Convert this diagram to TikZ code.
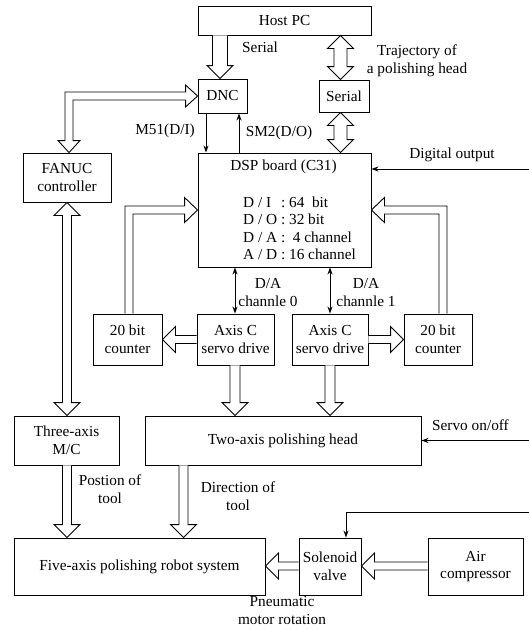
\documentclass[tikz,border=0pt]{standalone}
\usepackage{fontspec}
\setmainfont{Liberation Serif}
\usetikzlibrary{calc,arrows.meta}
\newcommand{\figfont}{\fontsize{15.3}{17.5}\selectfont}
% vertical hollow arrow: #1 x, #2 from, #3 to, #4 shaft half width, #5 sign (1 down, -1 up)
\newcommand{\varr}[5]{%
  \path (#1,0 |- #2) coordinate (bs) (#1,0 |- #3) coordinate (be);
  \draw[harrow] ($(bs)+(-#4,0)$) -- ($(be)+(-#4,{-13*#5})$) -- ($(be)+(-13,{-13*#5})$) -- (be)
     -- ($(be)+(13,{-13*#5})$) -- ($(be)+(#4,{-13*#5})$) -- ($(bs)+(#4,0)$);}
% double vertical hollow arrow: #1 x, #2 top, #3 bottom, #4 shaft half width
\newcommand{\bdv}[4]{%
  \path (#1,0 |- #2) coordinate (bs) (#1,0 |- #3) coordinate (be);
  \draw[harrow] (bs) -- ($(bs)+(13,13)$) -- ($(bs)+(#4,13)$) -- ($(be)+(#4,-13)$) -- ($(be)+(13,-13)$)
     -- (be) -- ($(be)+(-13,-13)$) -- ($(be)+(-#4,-13)$) -- ($(bs)+(-#4,13)$) -- ($(bs)+(-13,13)$) -- cycle;}
% horizontal hollow arrow: #1 y, #2 from, #3 to, #4 shaft half width, #5 sign (1 right, -1 left)
\newcommand{\harr}[5]{%
  \path (#2 |- 0,#1) coordinate (bs) (#3 |- 0,#1) coordinate (be);
  \draw[harrow] ($(bs)+(0,-#4)$) -- ($(be)+({-13*#5},-#4)$) -- ($(be)+({-13*#5},-13)$) -- (be)
     -- ($(be)+({-13*#5},13)$) -- ($(be)+({-13*#5},#4)$) -- ($(bs)+(0,#4)$);}
\begin{document}
\begin{tikzpicture}[x=1pt,y=-1pt,
  box/.style={draw, line width=0.9pt, inner sep=0pt, align=center, font=\figfont},
  harrow/.style={draw, line width=0.9pt, fill=white, line join=miter},
  thinl/.style={draw, line width=0.9pt},
  lbl/.style={align=center, font=\figfont, inner sep=0pt},
  tip/.style={-{Stealth[length=7pt,width=5pt]}},
  tips/.style={{Stealth[length=7pt,width=5pt]}-{Stealth[length=7pt,width=5pt]}}]
\useasboundingbox (0,0) rectangle (529,629);

% boxes
\node[box, minimum width=173pt, minimum height=29pt] (host) at (284.5,20.5) {Host PC};
\node[box, minimum width=49pt, minimum height=34pt] (dnc) at (222.5,96) {DNC};
\node[box, minimum width=50pt, minimum height=32pt] (ser) at (344,96) {Serial};
\node[box, minimum width=88pt, minimum height=49pt] (fanuc) at (67,177.5) {FANUC\\controller};
\node[box, minimum width=173pt, minimum height=114pt] (dsp) at (284.5,210) {};
\node[box, minimum width=69pt, minimum height=51pt] (cntL) at (127.5,339.5) {20 bit\\counter};
\node[box, minimum width=77pt, minimum height=51pt] (axL) at (235.5,339.5) {Axis C\\servo drive};
\node[box, minimum width=76pt, minimum height=51pt] (axR) at (330,339.5) {Axis C\\servo drive};
\node[box, minimum width=68pt, minimum height=51pt] (cntR) at (438,339.5) {20 bit\\counter};
\node[box, minimum width=105pt, minimum height=49pt] (three) at (66.5,440.5) {Three-axis\\M/C};
\node[box, minimum width=276pt, minimum height=49pt] (head) at (283,440.5) {Two-axis polishing head};
\node[box, minimum width=251pt, minimum height=57pt] (five) at (139.5,566.5) {Five-axis polishing robot system};
\node[box, minimum width=62pt, minimum height=57pt] (sol) at (330,566.5) {Solenoid\\valve};
\node[box, minimum width=95pt, minimum height=57pt] (air) at (475.5,566.5) {Air\\compressor};

% DSP contents
\node[lbl] (dsptitle) at (283.5,167) {DSP board (C31)};
\node[lbl, anchor=base west] (dspspec) at (243,207) {\begin{tabular}[t]{@{}l@{\ :\ }l@{}}
D / I & 64\ \ bit\\
D / O & 32 bit\\
D / A & \ 4 channel\\
A / D & 16 channel
\end{tabular}};

% hollow arrows
\varr{220}{host.south}{dnc.north}{7.5}{1}
\bdv{340.5}{host.south}{ser.north}{6.5}
\bdv{340.5}{ser.south}{dsp.north}{6.5}
\bdv{67}{fanuc.south}{three.north}{4.5}
\varr{235}{axL.south}{head.north}{5}{1}
\varr{330}{axR.south}{head.north}{5}{1}
\varr{67}{three.south}{five.north}{4.5}{1}
\varr{183.5}{head.south}{five.north}{4.5}{1}
\harr{339.5}{axL.west}{cntL.east}{4}{-1}
\harr{339.5}{axR.east}{cntR.west}{4}{1}
\harr{566}{sol.west}{five.east}{4}{-1}
\harr{566}{air.west}{sol.east}{4}{-1}

% bent hollow arrows
\coordinate (fd) at (69,0 |- fanuc.north);
\coordinate (dd) at (dnc.west);
\draw[harrow] (fd) -- ++(11,-12) -- ++(-7,0) |- ($(dd)+(-12,4)$) -- ++(0,7) -- (dd)
  -- ++(-12,-11) -- ++(0,7) -| ($(fd)+(-4,-12)$) -- ++(-7,0) -- cycle;
\coordinate (cl) at (129,0 |- cntL.north);
\coordinate (cd) at (dsp.west |- 0,210);
\draw[harrow] ($(cl)+(-4,0)$) |- ($(cd)+(-13,-4)$) -- ++(0,-8.5) -- (cd) -- ++(-13,12.5)
  -- ++(0,-8.5) -| ($(cl)+(4,0)$);
\coordinate (cr) at (443,0 |- cntR.north);
\coordinate (ce) at (dsp.east |- 0,210);
\draw[harrow] ($(cr)+(4,0)$) |- ($(ce)+(13,-4)$) -- ++(0,-8.5) -- (ce) -- ++(13,12.5)
  -- ++(0,-8.5) -| ($(cr)+(-4,0)$);

% thin arrows
\draw[thinl, tip] (206,0 |- dnc.south) -- (206,0 |- dsp.north);
\draw[thinl, tip] (239,0 |- dsp.north) -- (239,0 |- dnc.south);
\draw[thinl, tips] (235,0 |- dsp.south) -- (235,0 |- axL.north);
\draw[thinl, tips] (330,0 |- dsp.south) -- (330,0 |- axR.north);
\coordinate (dig) at (529,169);
\draw[thinl, tip] (dig) -- (dig -| dsp.east);
\coordinate (srv) at (529,440.5);
\draw[thinl, tip] (srv) -- (srv -| head.east);
\coordinate (sv) at (529,512);
\draw[thinl, tip] (sv) -| ($(sol.north)+(16,0)$);

% labels
\node[lbl, anchor=west] (lser) at (242,47) {Serial};
\node[lbl] (ltraj) at (417,61) {Trajectory of\\a polishing head};
\node[lbl] (lm51) at (165,131) {M51(D/I)};
\node[lbl] (lsm2) at (279,133) {SM2(D/O)};
\node[lbl] (ldig) at (452,155) {Digital output};
\node[lbl] (lda0) at (268,292.5) {D/A\\channle 0};
\node[lbl] (lda1) at (366,292.5) {D/A\\channle 1};
\node[lbl] (lsrv) at (470.5,425) {Servo on/off};
\node[lbl] (lpos) at (110,489) {Postion of\\tool};
\node[lbl] (ldir) at (238,496) {Direction of\\tool};
\node[lbl] (lpne) at (282,610.5) {Pneumatic\\motor rotation};
\end{tikzpicture}
\end{document}
